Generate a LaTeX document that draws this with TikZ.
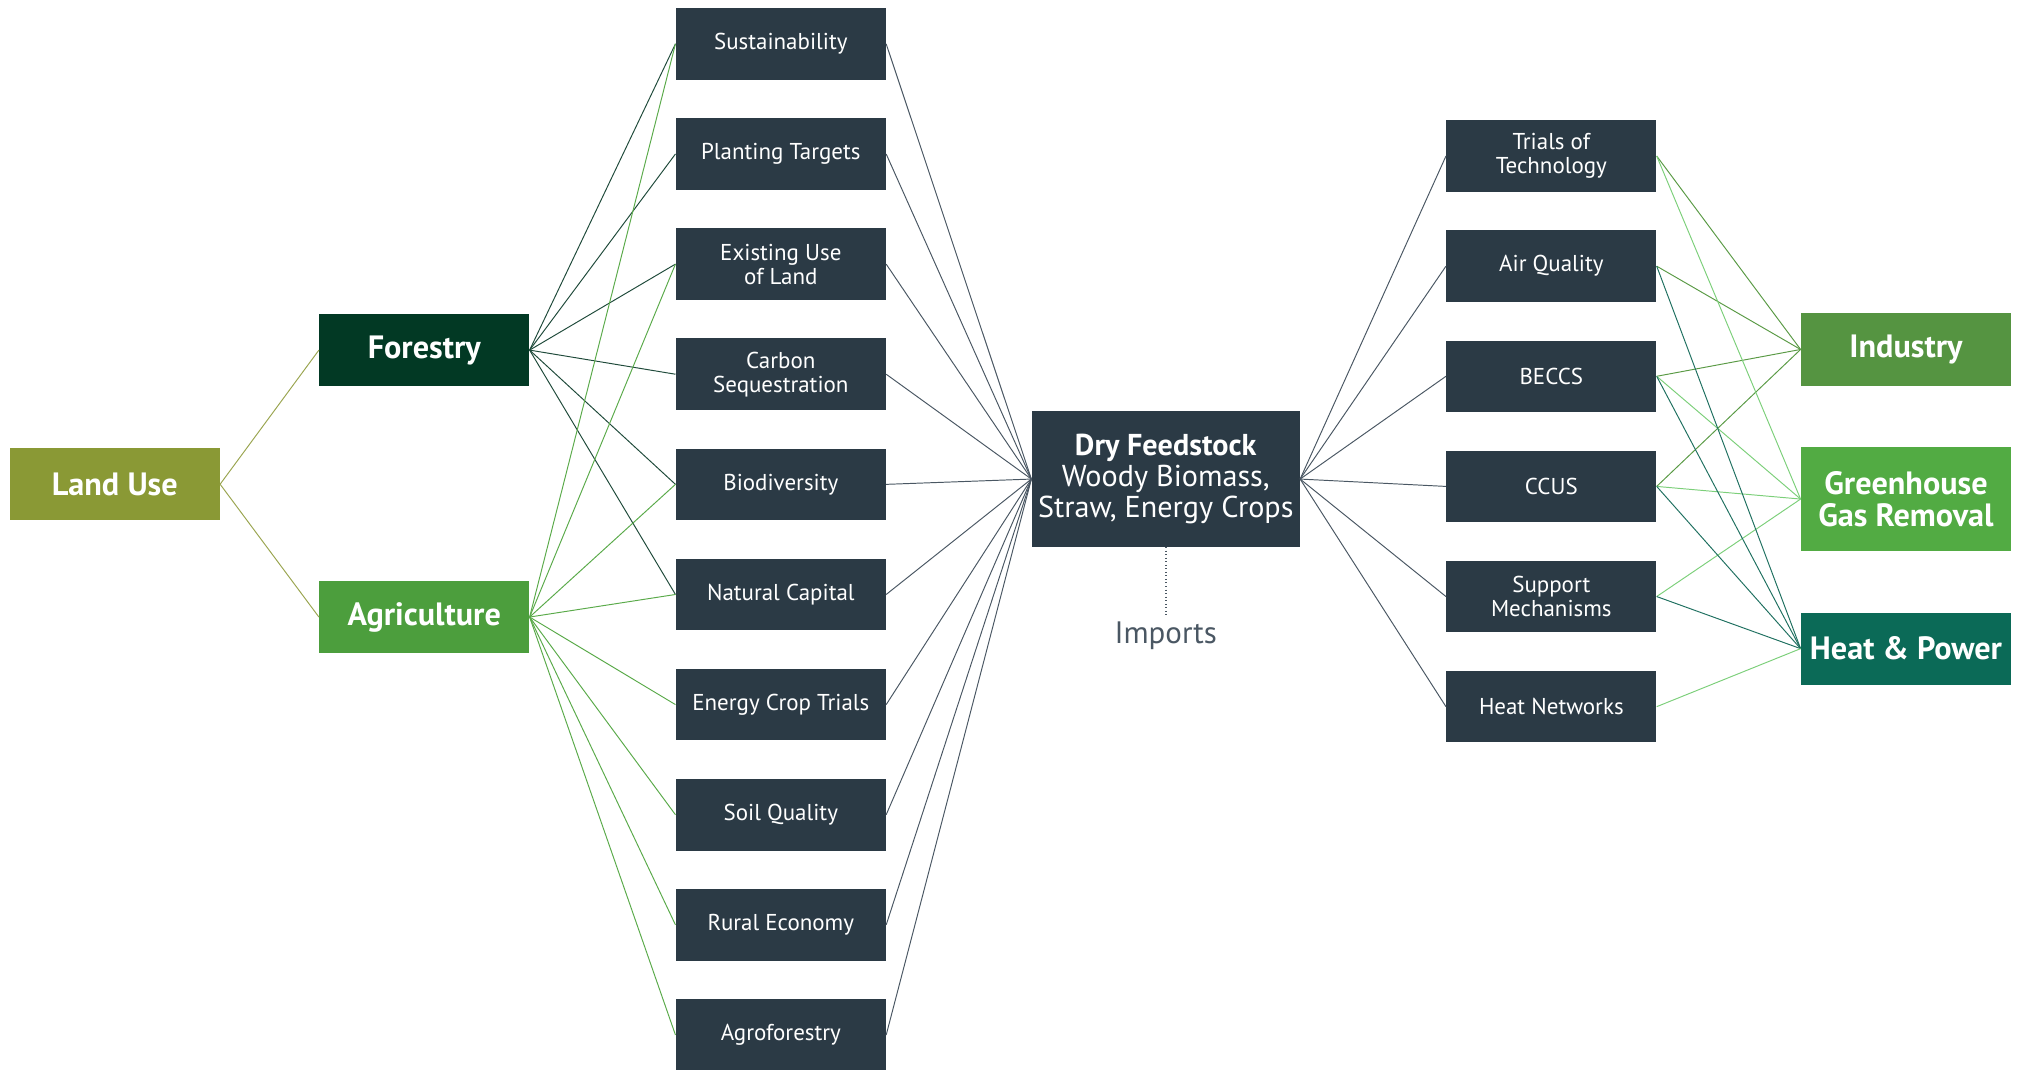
\documentclass[tikz,border=0pt]{standalone}
\usepackage{fontspec}
\setmainfont{PT Sans}
\usepackage{tikz}
\usetikzlibrary{positioning}

\definecolor{slate}{HTML}{2B3A45}
\definecolor{landbox}{HTML}{8A9935}
\definecolor{forestbox}{HTML}{023924}
\definecolor{agribox}{HTML}{4C9E3D}
\definecolor{industrybox}{HTML}{559441}
\definecolor{ggrbox}{HTML}{52AB43}
\definecolor{heatbox}{HTML}{0B6A57}
\definecolor{grayline}{HTML}{4A5763}
\definecolor{landline}{HTML}{9AA550}
\definecolor{forestline}{HTML}{1F4A3A}
\definecolor{agriline}{HTML}{5AAA4A}
\definecolor{industryline}{HTML}{5A9A45}
\definecolor{ggrline}{HTML}{7CCF7A}
\definecolor{heatline}{HTML}{1F7060}

\begin{document}
\begin{tikzpicture}[
            x = 1pt, y = 1pt, % picture measured in points, y downwards
            node distance = 29.5pt, % gap between boxes in a column
            box/.style = {fill=slate, text=white, minimum width=163pt,
                minimum height=55.5pt, inner sep=2pt, align=center,
                font=\fontsize{17.8}{18.5}\selectfont},
            big/.style = {text=white, minimum width=163pt, minimum height=56pt,
                inner sep=2pt, align=center,
                font=\fontsize{25}{24.5}\selectfont\bfseries},
            link/.style = {line width=0.75pt}
        ]
	\useasboundingbox (0,0) rectangle (1568,-829);

	% left side
	\node[big, fill=landbox] (land) at (89,-375.5) {Land Use};
	\node[big, fill=forestbox] (forestry) at (329,-271.5) {Forestry};
	\node[big, fill=agribox] (agri) at (329,-478.5) {Agriculture};

	\node[box] (sust) at (605.5,-34) {Sustainability};
	\node[box] (plant) [below=of sust] {Planting Targets};
	\node[box] (exist) [below=of plant] {Existing Use\\of Land};
	\node[box] (carbon) [below=of exist] {Carbon\\Sequestration};
	\node[box] (biodiv) [below=of carbon] {Biodiversity};
	\node[box] (natcap) [below=of biodiv] {Natural Capital};
	\node[box] (crop) [below=of natcap] {Energy Crop Trials};
	\node[box] (soil) [below=of crop] {Soil Quality};
	\node[box] (rural) [below=of soil] {Rural Economy};
	\node[box] (agrofor) [below=of rural] {Agroforestry};

	% feedstock
	\node[box, minimum width=208pt, minimum height=105pt,
	      font=\fontsize{23.4}{24}\selectfont] (dry) at (904,-371.5)
	      {\textbf{Dry Feedstock}\\Woody Biomass,\\Straw, Energy Crops};
	\node[text=grayline, font=\fontsize{24}{24}\selectfont, inner sep=5pt]
	      (imports) at (904,-493) {Imports};

	% right side
	\node[box] (trials) at (1203,-121) {Trials of\\Technology};
	\node[box] (air) [below=of trials] {Air Quality};
	\node[box] (beccs) [below=of air] {BECCS};
	\node[box] (ccus) [below=of beccs] {CCUS};
	\node[box] (support) [below=of ccus] {Support\\Mechanisms};
	\node[box] (heatnet) [below=of support] {Heat Networks};

	\node[big, fill=industrybox] (industry) at (1478,-271) {Industry};
	\node[big, fill=ggrbox, minimum height=80pt] (ggr) at (1478,-387)
	      {Greenhouse\\Gas Removal};
	\node[big, fill=heatbox] (heatpow) at (1478,-503) {Heat \& Power};

	% connectors
	\draw[link, landline] (land.east) edge (forestry.west) edge (agri.west);
	\draw[link, forestline] (forestry.east) edge (sust.west) edge (plant.west)
	      edge (exist.west) edge (carbon.west) edge (biodiv.west) edge (natcap.west);
	\draw[link, agriline] (agri.east) edge (sust.west) edge (exist.west)
	      edge (biodiv.west) edge (natcap.west) edge (crop.west) edge (soil.west)
	      edge (rural.west) edge (agrofor.west);
	\draw[link, grayline] (dry.west) edge (sust.east) edge (plant.east)
	      edge (exist.east) edge (carbon.east) edge (biodiv.east) edge (natcap.east)
	      edge (crop.east) edge (soil.east) edge (rural.east) edge (agrofor.east);
	\draw[link, grayline] (dry.east) edge (trials.west) edge (air.west)
	      edge (beccs.west) edge (ccus.west) edge (support.west) edge (heatnet.west);
	\draw[link, industryline] (industry.west) edge (trials.east) edge (air.east)
	      edge (beccs.east) edge (ccus.east);
	\draw[link, ggrline] (ggr.west) edge (trials.east) edge (beccs.east)
	      edge (ccus.east) edge (support.east);
	\draw[link, heatline] (heatpow.west) edge (air.east) edge (beccs.east)
	      edge (ccus.east) edge (support.east);
	\draw[link, ggrline] (heatnet.east) -- (heatpow.west);
	\draw[link, grayline, dotted, line width=1.2pt] (dry) -- (imports);

\end{tikzpicture}
\end{document}
